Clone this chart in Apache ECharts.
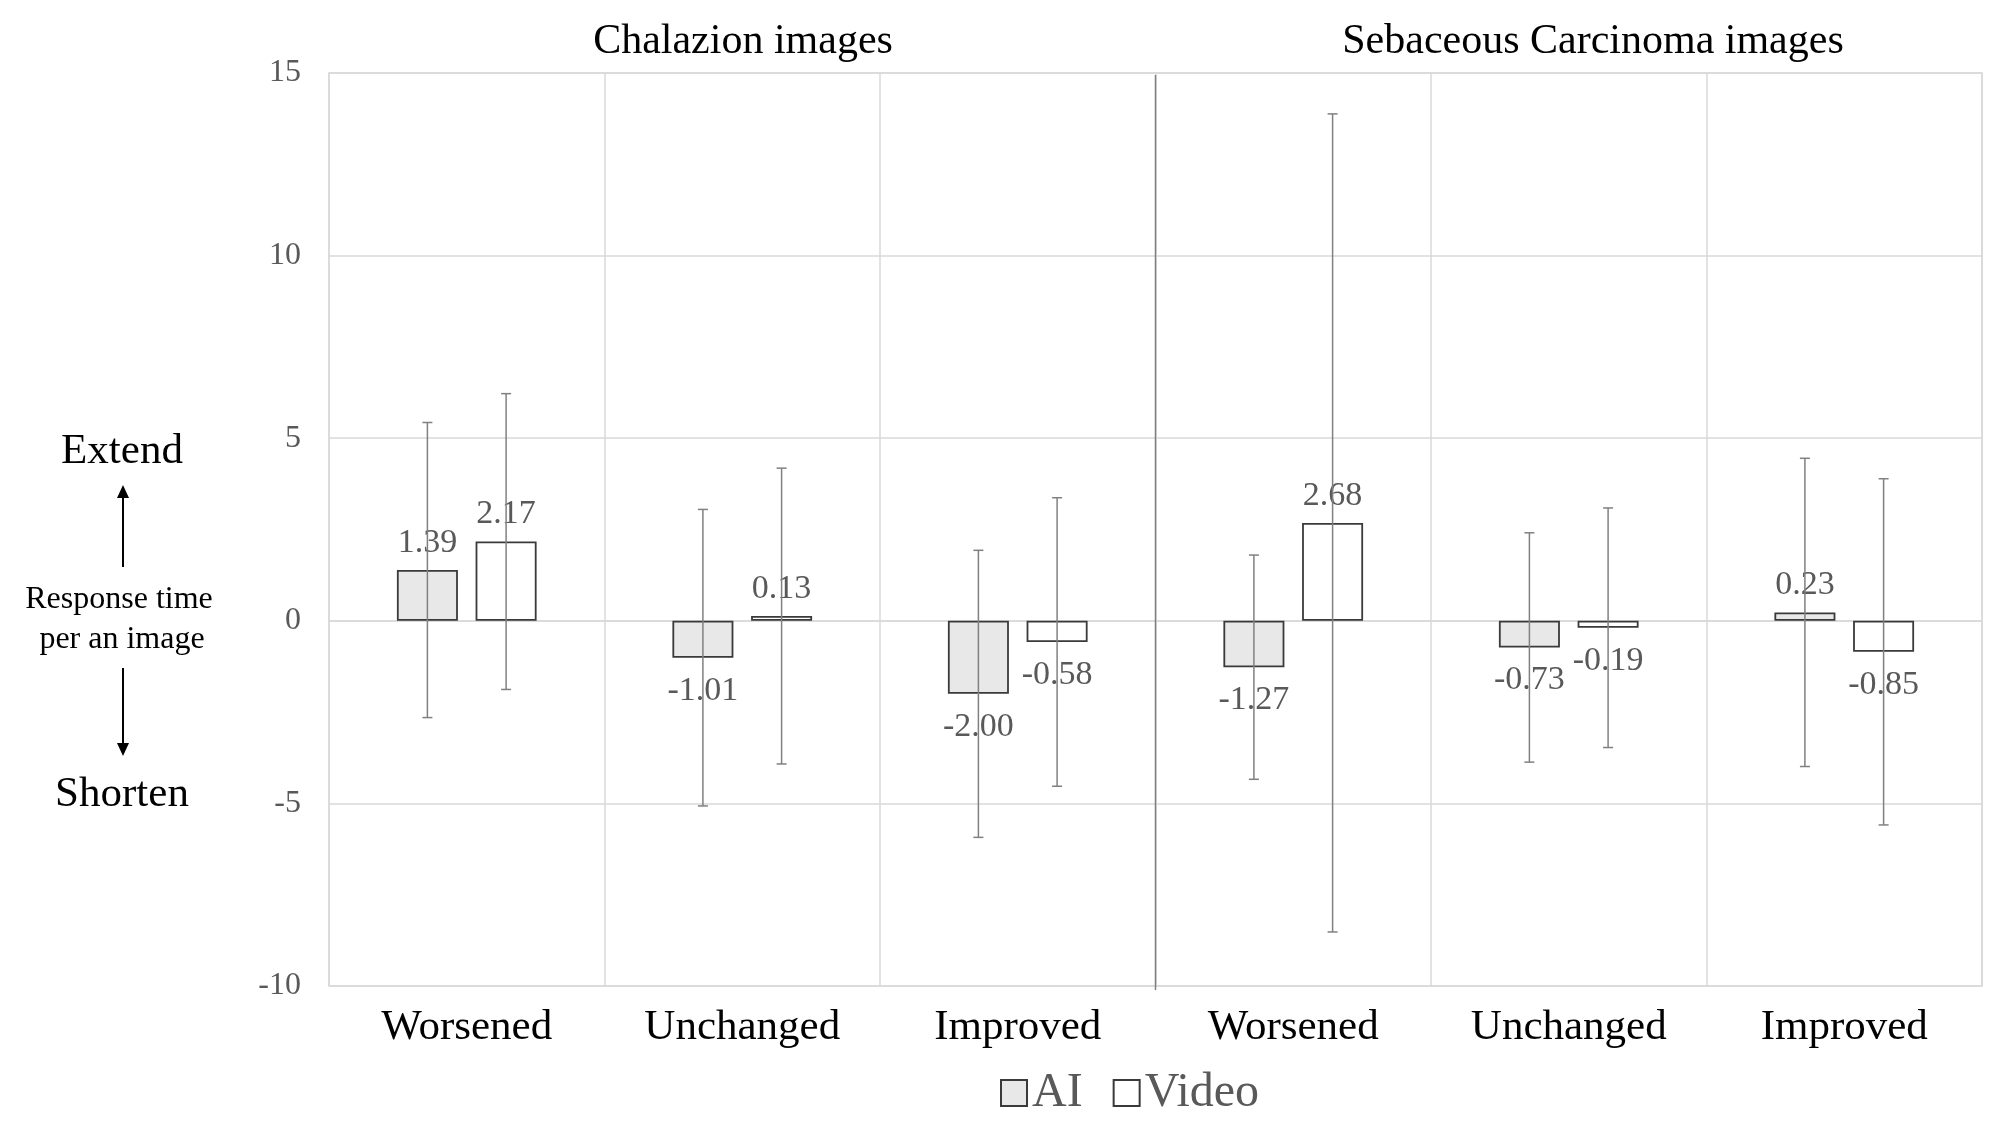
<!DOCTYPE html>
<html>
<head>
<meta charset="utf-8">
<script src="https://cdn.jsdelivr.net/npm/echarts@6/dist/echarts.min.js"></script>
<style>
html,body{margin:0;padding:0;background:#fff;}
#chart{width:2008px;height:1139px;}
</style>
</head>
<body>
<div id="chart"></div>
<script>
// ---- data ----
const categories = ['Worsened', 'Unchanged', 'Improved', 'Worsened', 'Unchanged', 'Improved'];
const groupTitles = ['Chalazion images', 'Sebaceous Carcinoma images'];
const aiValues = [1.39, -1.01, -2.00, -1.27, -0.73, 0.23];
const videoValues = [2.17, 0.13, -0.58, 2.68, -0.19, -0.85];
const aiErr = [4.04, 4.06, 3.93, 3.07, 3.14, 4.22];
const videoErr = [4.05, 4.05, 3.95, 11.2, 3.28, 4.74];
const yTicks = { min: -10, max: 15, interval: 5 };

// ---- style ----
const FONT = 'Liberation Serif';
const BAR_W = 61;
const BAR_GAP = 0.29;
const GRID = { left: 329, right: 26, top: 73, bottom: 153 };

const chart = echarts.init(document.getElementById('chart'), null, { renderer: 'canvas' });

function barData(vals) {
  return vals.map(v => ({
    value: v,
    label: v >= 0 ? { position: 'top', distance: 10 } : { position: 'bottom', distance: 16 }
  }));
}
function errData(vals, errs) {
  return vals.map((v, i) => [i, v - errs[i], v + errs[i]]);
}
function errRender(sign) {
  return function (params, api) {
    const idx = api.value(0);
    const off = sign * BAR_W * (1 + BAR_GAP) / 2;
    const pLo = api.coord([idx, api.value(1)]);
    const pHi = api.coord([idx, api.value(2)]);
    const x = pLo[0] + off;
    const cap = 5;
    const style = { stroke: '#808080', lineWidth: 1.5 };
    return {
      type: 'group',
      children: [
        { type: 'line', shape: { x1: x, y1: pLo[1], x2: x, y2: pHi[1] }, style },
        { type: 'line', shape: { x1: x - cap, y1: pLo[1], x2: x + cap, y2: pLo[1] }, style },
        { type: 'line', shape: { x1: x - cap, y1: pHi[1], x2: x + cap, y2: pHi[1] }, style }
      ]
    };
  };
}

const labelStyle = {
  show: true,
  color: '#595959',
  fontFamily: FONT,
  fontSize: 34,
  formatter: p => p.value.toFixed(2)
};

const option = {
  backgroundColor: '#fff',
  animation: false,
  grid: Object.assign({ show: true, borderColor: '#d9d9d9', borderWidth: 1.5 }, GRID),
  legend: {
    data: ['AI', 'Video'],
    left: 995,
    top: 1064,
    icon: 'rect',
    itemWidth: 26,
    itemHeight: 26,
    itemGap: 30,
    textStyle: { fontFamily: FONT, fontSize: 48, color: '#595959' }
  },
  xAxis: {
    type: 'category',
    data: categories,
    axisLine: { show: true, lineStyle: { color: '#d9d9d9', width: 1.5 } },
    axisTick: { show: false },
    splitLine: { show: true, lineStyle: { color: '#d9d9d9', width: 1.5 } },
    axisLabel: { fontFamily: FONT, fontSize: 43, color: '#000', margin: 20, interval: 0 }
  },
  yAxis: {
    type: 'value',
    min: yTicks.min,
    max: yTicks.max,
    interval: yTicks.interval,
    axisLine: { show: false },
    axisTick: { show: false },
    splitLine: { lineStyle: { color: '#d9d9d9', width: 1.5 } },
    axisLabel: { fontFamily: FONT, fontSize: 32, color: '#595959', margin: 28 }
  },
  series: [
    {
      name: 'AI',
      type: 'bar',
      barWidth: BAR_W,
      barGap: (BAR_GAP * 100) + '%',
      data: barData(aiValues),
      itemStyle: { color: '#e8e8e8', borderColor: '#3a3a3a', borderWidth: 1.8 },
      label: labelStyle,
      z: 2
    },
    {
      name: 'Video',
      type: 'bar',
      barWidth: BAR_W,
      barGap: (BAR_GAP * 100) + '%',
      data: barData(videoValues),
      itemStyle: { color: '#ffffff', borderColor: '#3a3a3a', borderWidth: 1.8 },
      label: labelStyle,
      z: 2
    },
    {
      name: 'AI err',
      type: 'custom',
      renderItem: errRender(-1),
      data: errData(aiValues, aiErr),
      z: 5,
      silent: true
    },
    {
      name: 'Video err',
      type: 'custom',
      renderItem: errRender(1),
      data: errData(videoValues, videoErr),
      z: 5,
      silent: true
    },
    {
      name: 'separator',
      type: 'custom',
      silent: true,
      z: 3,
      data: [[2, yTicks.min]],
      renderItem: function (params, api) {
        const bw = api.size([1, 0])[0];
        const pBot = api.coord([2, yTicks.min]);
        const pTop = api.coord([2, yTicks.max]);
        const x = pBot[0] + bw / 2;
        return {
          type: 'line',
          shape: { x1: x, y1: pTop[1] + 2, x2: x, y2: pBot[1] + 4 },
          style: { stroke: '#7f7f7f', lineWidth: 1.5 }
        };
      }
    }
  ],
  graphic: [
    { type: 'text', x: 743, y: 42, style: { text: groupTitles[0], font: '42px "Liberation Serif"', fill: '#000', textAlign: 'center', textVerticalAlign: 'middle' } },
    { type: 'text', x: 1593, y: 42, style: { text: groupTitles[1], font: '42px "Liberation Serif"', fill: '#000', textAlign: 'center', textVerticalAlign: 'middle' } },
    { type: 'text', x: 122, y: 452, style: { text: 'Extend', font: '43px "Liberation Serif"', fill: '#000', textAlign: 'center', textVerticalAlign: 'middle' } },
    { type: 'text', x: 122, y: 795, style: { text: 'Shorten', font: '43px "Liberation Serif"', fill: '#000', textAlign: 'center', textVerticalAlign: 'middle' } },
    { type: 'text', x: 119, y: 600, style: { text: 'Response time', font: '32px "Liberation Serif"', fill: '#000', textAlign: 'center', textVerticalAlign: 'middle' } },
    { type: 'text', x: 122, y: 640, style: { text: 'per an image', font: '32px "Liberation Serif"', fill: '#000', textAlign: 'center', textVerticalAlign: 'middle' } },
    { type: 'line', shape: { x1: 123, y1: 567, x2: 123, y2: 496 }, style: { stroke: '#000', lineWidth: 2 } },
    { type: 'polygon', shape: { points: [[123, 485], [117, 498], [129, 498]] }, style: { fill: '#000' } },
    { type: 'line', shape: { x1: 123, y1: 668, x2: 123, y2: 744 }, style: { stroke: '#000', lineWidth: 2 } },
    { type: 'polygon', shape: { points: [[123, 756], [117, 743], [129, 743]] }, style: { fill: '#000' } }
  ]
};

chart.setOption(option);
</script>
</body>
</html>
